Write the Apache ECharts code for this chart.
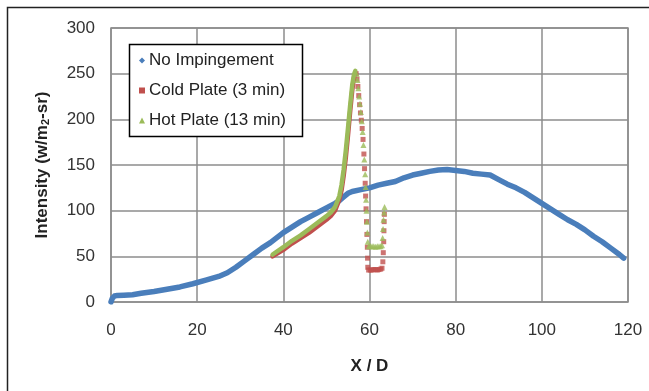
<!DOCTYPE html>
<html>
<head>
<meta charset="utf-8">
<script src="https://cdn.jsdelivr.net/npm/echarts@6/dist/echarts.min.js"></script>
<style>
  html, body { margin: 0; padding: 0; background: #fff; }
  #chart { width: 649px; height: 391px; }
</style>
</head>
<body>
<div id="chart"></div>
<script>
// Axis ticks
const xTicks = [0, 20, 40, 60, 80, 100, 120];
const yTicks = [0, 50, 100, 150, 200, 250, 300];

// Series names
const seriesNames = ['No Impingement', 'Cold Plate (3 min)', 'Hot Plate (13 min)'];

// No impingement: [X/D, intensity]
const noImpingement = [
  [0, 0], [0.3, 4], [0.8, 6.5], [1.5, 7.2], [3, 7.5], [5, 8], [7, 9.5], [10, 11.5],
  [13, 14], [16, 16.5], [19, 20], [22, 24], [25, 28], [27, 32], [29, 38], [31, 45],
  [33, 52], [35, 59], [37, 65], [40, 76], [42, 82], [44, 88], [46, 93], [48, 98],
  [50, 103], [52, 108], [53, 111], [54, 115], [55, 119], [56, 121], [58, 123], [60, 125],
  [62, 128], [64, 130], [66, 132], [68, 136], [70, 139], [72, 141], [74, 143], [76, 144.5],
  [78, 145], [80, 144], [82, 143], [84, 141], [86, 140], [88, 139], [90, 134], [92, 129],
  [94, 125], [96, 120], [98, 114], [100, 108], [102, 102], [104, 96], [106, 90], [108, 85],
  [110, 79], [112, 72], [114, 66], [116, 59], [118, 52], [119, 48]
];

// Cold plate (3 min): rising branch and the steep drop / plateau
const coldRise = [
  [37.5, 50], [40, 57], [42, 64], [44, 70], [46, 76], [48, 83], [50, 90], [51, 94],
  [52, 100], [53, 112], [53.5, 122], [54, 138], [54.5, 158], [55, 182], [55.5, 208],
  [56, 232], [56.4, 246], [56.7, 251]
];
const coldDrop = [
  [56.9, 250], [57.1, 244], [57.3, 236], [57.5, 226], [57.7, 216], [57.9, 207], [58.1, 199],
  [58.3, 190], [58.5, 178], [58.7, 162], [58.85, 146], [59.0, 130], [59.1, 116], [59.2, 102],
  [59.3, 88], [59.4, 74], [59.5, 60], [59.55, 48], [59.6, 38], [59.8, 35], [60.2, 35],
  [60.6, 35], [61.0, 35.5], [61.4, 35.5], [61.8, 35], [62.2, 35.5], [62.6, 36], [62.9, 37],
  [63.1, 44], [63.2, 54], [63.3, 66], [63.35, 78], [63.4, 88], [63.45, 96]
];

// Hot plate (13 min): rising branch and the steep drop / plateau
const hotRise = [
  [37.5, 52], [40, 60], [42, 67], [44, 73], [46, 80], [48, 87], [50, 94], [51, 98],
  [52, 104], [53, 116], [53.5, 128], [54, 145], [54.5, 166], [55, 190], [55.5, 215],
  [56, 238], [56.4, 249], [56.7, 253]
];
const hotDrop = [
  [57.0, 250], [57.2, 243], [57.4, 234], [57.6, 225], [57.8, 217], [58.0, 208], [58.2, 198],
  [58.4, 186], [58.6, 172], [58.8, 156], [59.0, 140], [59.1, 126], [59.2, 112], [59.3, 100],
  [59.4, 88], [59.5, 76], [59.6, 66], [59.8, 61], [60.2, 61], [60.6, 61], [61.0, 61],
  [61.4, 60.5], [61.8, 61], [62.2, 61], [62.6, 61], [62.9, 62], [63.05, 70], [63.15, 80],
  [63.25, 90], [63.4, 98], [63.5, 104]
];

const BLUE = '#4a7ebb';
const RED = '#c0504d';
const GREEN = '#9bbb59';
const GRID = '#8c8c8c';

const chart = echarts.init(document.getElementById('chart'), null, { renderer: 'canvas' });

chart.setOption({
  backgroundColor: '#ffffff',
  animation: false,
  textStyle: { fontFamily: 'Liberation Sans, Arial, sans-serif' },
  graphic: [
    {
      // outer chart frame
      type: 'rect',
      shape: { x: 7.5, y: 7.5, width: 700, height: 420 },
      style: { fill: 'none', stroke: '#222', lineWidth: 1.5 },
      silent: true,
      z: -1
    },
    {
      // legend box
      type: 'rect',
      shape: { x: 129.5, y: 44.5, width: 173, height: 92 },
      style: { fill: '#fff', stroke: '#000', lineWidth: 1.5 },
      silent: true,
      z: 5
    }
  ],
  grid: {
    left: 111, right: 21, top: 28, bottom: 89,
    show: true, borderColor: GRID, borderWidth: 1.5
  },
  legend: {
    orient: 'vertical',
    left: 139, top: 52,
    padding: 0,
    itemGap: 13,
    itemWidth: 6, itemHeight: 6,
    z: 6,
    textStyle: { fontSize: 17, color: '#222', padding: [0, 0, 0, -1] },
    data: [
      { name: seriesNames[0], icon: 'diamond' },
      { name: seriesNames[1], icon: 'rect' },
      { name: seriesNames[2], icon: 'triangle' }
    ]
  },
  xAxis: {
    type: 'value',
    min: xTicks[0], max: xTicks[xTicks.length - 1], interval: 20,
    name: 'X / D',
    nameLocation: 'middle',
    nameGap: 56,
    nameTextStyle: { fontSize: 17, fontWeight: 'bold', color: '#222' },
    axisLine: { show: false },
    axisTick: { show: false },
    axisLabel: { fontSize: 17, color: '#333', margin: 20 },
    splitLine: { lineStyle: { color: GRID, width: 1.5 } }
  },
  yAxis: {
    type: 'value',
    min: yTicks[0], max: yTicks[yTicks.length - 1], interval: 50,
    name: 'Intensity (w/m{sub|2}-sr)',
    nameLocation: 'middle',
    nameGap: 60,
    nameTextStyle: {
      fontSize: 17, fontWeight: 'bold', color: '#222',
      rich: { sub: { fontSize: 11, fontWeight: 'bold', color: '#222', verticalAlign: 'bottom', padding: [7, 0, 0, 0] } }
    },
    axisLine: { show: false },
    axisTick: { show: false },
    axisLabel: { fontSize: 17, color: '#333', margin: 16 },
    splitLine: { lineStyle: { color: GRID, width: 1.5 } }
  },
  series: [
    {
      name: seriesNames[0], type: 'line', data: noImpingement,
      symbol: 'none', color: BLUE,
      lineStyle: { color: BLUE, width: 5.5, cap: 'round', join: 'round' },
      z: 2
    },
    {
      name: seriesNames[1], type: 'line', data: coldRise,
      symbol: 'none', color: RED,
      lineStyle: { color: RED, width: 4.5, cap: 'round', join: 'round' },
      z: 3
    },
    {
      name: seriesNames[1], type: 'scatter', data: coldDrop,
      symbol: 'rect', symbolSize: 5, color: RED,
      itemStyle: { color: RED },
      z: 3
    },
    {
      name: seriesNames[2], type: 'line', data: hotRise,
      symbol: 'none', color: GREEN,
      lineStyle: { color: GREEN, width: 4.5, cap: 'round', join: 'round' },
      z: 4
    },
    {
      name: seriesNames[2], type: 'scatter', data: hotDrop,
      symbol: 'triangle', symbolSize: 6, color: GREEN,
      itemStyle: { color: GREEN },
      z: 4
    }
  ]
});
</script>
</body>
</html>
